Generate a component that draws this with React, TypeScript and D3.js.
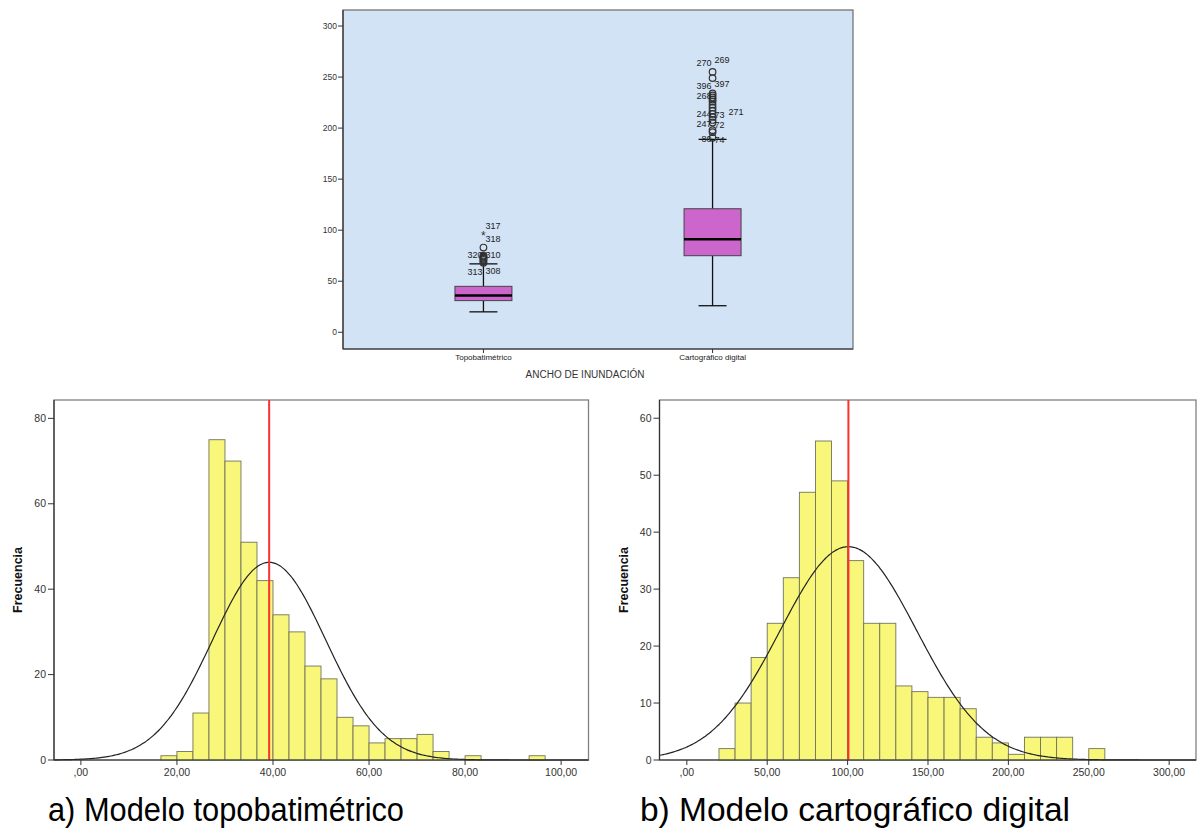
import * as d3 from 'd3'

// Box plot data
const boxCategories = ['Topobatimétrico', 'Cartográfico digital']
const boxMin = [20, 26]
const boxQ1 = [31, 75]
const boxMedian = [36, 91]
const boxQ3 = [45, 121]
const boxMax = [67, 189]
const boxOutliers = [
  [68, 69.5, 71, 72, 73, 74, 75, 83],
  [190.5, 196, 198, 205.5, 208, 211, 214, 217, 220, 223, 226, 228, 230, 232, 234, 249, 255],
]
const boxExtremes = [[96], []]
const boxLabels = [
  [
    { t: '317', v: 104, side: 'r' },
    { t: '318', v: 91.5, side: 'r' },
    { t: '320', v: 75.5, side: 'l' },
    { t: '310', v: 75.5, side: 'r' },
    { t: '313', v: 59.5, side: 'l' },
    { t: '308', v: 60.5, side: 'r' },
  ],
  [
    { t: '270', v: 263.8, side: 'l' },
    { t: '269', v: 266.7, side: 'r' },
    { t: '396', v: 241.2, side: 'l' },
    { t: '397', v: 243.2, side: 'r' },
    { t: '268', v: 231.4, side: 'l' },
    { t: '244', v: 213.8, side: 'l' },
    { t: '73', v: 212.8, side: 'r' },
    { t: '271', v: 215.8, side: 'rr' },
    { t: '247', v: 204, side: 'l' },
    { t: '72', v: 203, side: 'r' },
    { t: '80', v: 189.3, side: 'l' },
    { t: '74', v: 188.3, side: 'r' },
  ],
]
const boxTicks = [0, 50, 100, 150, 200, 250, 300]

// Histogram a) topobatimétrico
const topoBinStart = 16.667
const topoBinWidth = 3.3333
const topoCounts = [1, 2, 11, 75, 70, 51, 42, 34, 30, 22, 19, 10, 8, 4, 5, 5, 6, 2, 0, 1, 0, 0, 0, 1]
const topoMean = 39.2
const topoSd = 11.8
const topoPeak = 46.3
const topoXTicks = [0, 20, 40, 60, 80, 100]
const topoYTicks = [0, 20, 40, 60, 80]

// Histogram b) cartográfico digital
const cartoBinStart = 20
const cartoBinWidth = 10
const cartoCounts = [2, 10, 18, 24, 32, 47, 56, 49, 35, 24, 24, 13, 12, 11, 11, 9, 4, 3, 1, 4, 4, 4, 0, 2]
const cartoMean = 100.5
const cartoSd = 42.5
const cartoPeak = 37.45
const cartoXTicks = [0, 50, 100, 150, 200, 250, 300]
const cartoYTicks = [0, 10, 20, 30, 40, 50, 60]

const FONT = '"Liberation Sans", Arial, sans-serif'
const fmt = (v: number) => (v === 0 ? ',00' : d3.format('.2f')(v).replace('.', ','))

function BoxPlot() {
  const left = 343, right = 853, top = 10, bottom = 349
  const x = d3.scalePoint().domain(boxCategories).range([left, right]).padding(0.613)
  const y = d3.scaleLinear().domain([-16.4, 315.7]).range([bottom, top])
  const bw = 57
  return (
    <g fontFamily={FONT}>
      <rect x={left} y={top} width={right - left} height={bottom - top} fill="#d3e3f6" stroke="#6b6b6b" strokeWidth={1.2} />
      {boxTicks.map(t => (
        <g key={t}>
          <line x1={left - 5} x2={left} y1={y(t)} y2={y(t)} stroke="#333" />
          <text x={left - 6} y={y(t) + 3} fontSize={8.5} fill="#333" textAnchor="end">{t}</text>
        </g>
      ))}
      <line x1={left} x2={left} y1={top} y2={bottom} stroke="#333" strokeWidth={1.2} />
      <line x1={left} x2={right} y1={bottom} y2={bottom} stroke="#333" strokeWidth={1.2} />
      {boxCategories.map((c, i) => {
        const cx = x(c) as number
        const cap = 14
        return (
          <g key={c}>
            <line x1={cx} x2={cx} y1={bottom} y2={bottom + 4} stroke="#333" />
            <text x={cx} y={bottom + 11} fontSize={8} fill="#222" textAnchor="middle">{c}</text>
            <line x1={cx} x2={cx} y1={y(boxMin[i])} y2={y(boxQ1[i])} stroke="#111" strokeWidth={1.3} />
            <line x1={cx} x2={cx} y1={y(boxQ3[i])} y2={y(boxMax[i])} stroke="#111" strokeWidth={1.3} />
            <line x1={cx - cap} x2={cx + cap} y1={y(boxMin[i])} y2={y(boxMin[i])} stroke="#111" strokeWidth={1.3} />
            <line x1={cx - cap} x2={cx + cap} y1={y(boxMax[i])} y2={y(boxMax[i])} stroke="#111" strokeWidth={1.3} />
            <rect x={cx - bw / 2} y={y(boxQ3[i])} width={bw} height={y(boxQ1[i]) - y(boxQ3[i])} fill="#cc66cc" stroke="#444" strokeWidth={1} />
            <line x1={cx - bw / 2} x2={cx + bw / 2} y1={y(boxMedian[i])} y2={y(boxMedian[i])} stroke="#000" strokeWidth={2.5} />
            {boxOutliers[i].map((v, k) => (
              <circle key={k} cx={cx} cy={y(v)} r={3.3} fill="none" stroke="#333" strokeWidth={1.2} />
            ))}
            {boxExtremes[i].map((v, k) => (
              <text key={k} x={cx} y={y(v) + 6} fontSize={12} textAnchor="middle" fill="#333">*</text>
            ))}
            {boxLabels[i].map((l, k) => (
              <text key={k}
                x={l.side === 'l' ? cx - 1 : l.side === 'rr' ? cx + 16 : cx + 2}
                y={y(l.v) + 3} fontSize={9} fill="#222"
                textAnchor={l.side === 'l' ? 'end' : 'start'}>{l.t}</text>
            ))}
          </g>
        )
      })}
      <text x={585} y={378} fontSize={10} fill="#333" textAnchor="middle">ANCHO DE INUNDACIÓN</text>
    </g>
  )
}

function Histogram({ counts, binStart, binWidth, mean, sd, peak, xDomain, xRange, yMax, xTicks, yTicks, labelX }) {
  const top = 400, bottom = 760
  const x = d3.scaleLinear().domain(xDomain).range(xRange)
  const y = d3.scaleLinear().domain([0, yMax]).range([bottom, top])
  const curvePts = d3.range(xDomain[0], xDomain[1], (xDomain[1] - xDomain[0]) / 300).concat([xDomain[1]])
  const line = d3.line<number>()
    .x(v => x(v))
    .y(v => y(peak * Math.exp(-((v - mean) ** 2) / (2 * sd * sd))))
    .curve(d3.curveBasis)
  return (
    <g fontFamily={FONT}>
      <rect x={xRange[0]} y={top} width={xRange[1] - xRange[0]} height={bottom - top} fill="#fff" stroke="#808080" strokeWidth={1.3} />
      {counts.map((c, i) => c > 0 && (
        <rect key={i}
          x={x(binStart + i * binWidth)} y={y(c)}
          width={x(binStart + (i + 1) * binWidth) - x(binStart + i * binWidth)}
          height={bottom - y(c)}
          fill="#f9f77a" stroke="#73735a" strokeWidth={0.9} />
      ))}
      <path d={line(curvePts) || ''} fill="none" stroke="#222" strokeWidth={1.2} />
      <line x1={x(mean)} x2={x(mean)} y1={top} y2={bottom} stroke="#ff3030" strokeWidth={2} />
      <line x1={xRange[0]} x2={xRange[0]} y1={top} y2={bottom} stroke="#333" strokeWidth={1.2} />
      <line x1={xRange[0]} x2={xRange[1]} y1={bottom} y2={bottom} stroke="#333" strokeWidth={1.2} />
      {yTicks.map(t => (
        <g key={t}>
          <line x1={xRange[0] - 6} x2={xRange[0]} y1={y(t)} y2={y(t)} stroke="#333" />
          <text x={xRange[0] - 8} y={y(t) + 3.5} fontSize={10.5} fill="#333" textAnchor="end">{t}</text>
        </g>
      ))}
      {xTicks.map(t => (
        <g key={t}>
          <line x1={x(t)} x2={x(t)} y1={bottom} y2={bottom + 5} stroke="#333" />
          <text x={x(t)} y={bottom + 16} fontSize={10.5} fill="#333" textAnchor="middle">{fmt(t)}</text>
        </g>
      ))}
      <text transform={`translate(${labelX},580) rotate(-90)`} fontSize={12.5} fontWeight="bold" fill="#111" textAnchor="middle">Frecuencia</text>
    </g>
  )
}

export default function App() {
  return (
    <svg width={1198} height={829} style={{ position: 'absolute', left: 0, top: 0, background: '#fff' }}>
      <BoxPlot />
      <Histogram counts={topoCounts} binStart={topoBinStart} binWidth={topoBinWidth}
        mean={topoMean} sd={topoSd} peak={topoPeak}
        xDomain={[-5.6, 105.7]} xRange={[54, 588.5]} yMax={84.3}
        xTicks={topoXTicks} yTicks={topoYTicks} labelX={22} />
      <Histogram counts={cartoCounts} binStart={cartoBinStart} binWidth={cartoBinWidth}
        mean={cartoMean} sd={cartoSd} peak={cartoPeak}
        xDomain={[-17, 316.7]} xRange={[659.5, 1196]} yMax={63.2}
        xTicks={cartoXTicks} yTicks={cartoYTicks} labelX={628} />
      <text x={48} y={821} fontFamily={FONT} fontSize={34} fill="#000" textLength={356} lengthAdjust="spacingAndGlyphs">a)  Modelo topobatimétrico</text>
      <text x={640} y={821} fontFamily={FONT} fontSize={34} fill="#000" textLength={430} lengthAdjust="spacingAndGlyphs">b) Modelo cartográfico digital</text>
    </svg>
  )
}
